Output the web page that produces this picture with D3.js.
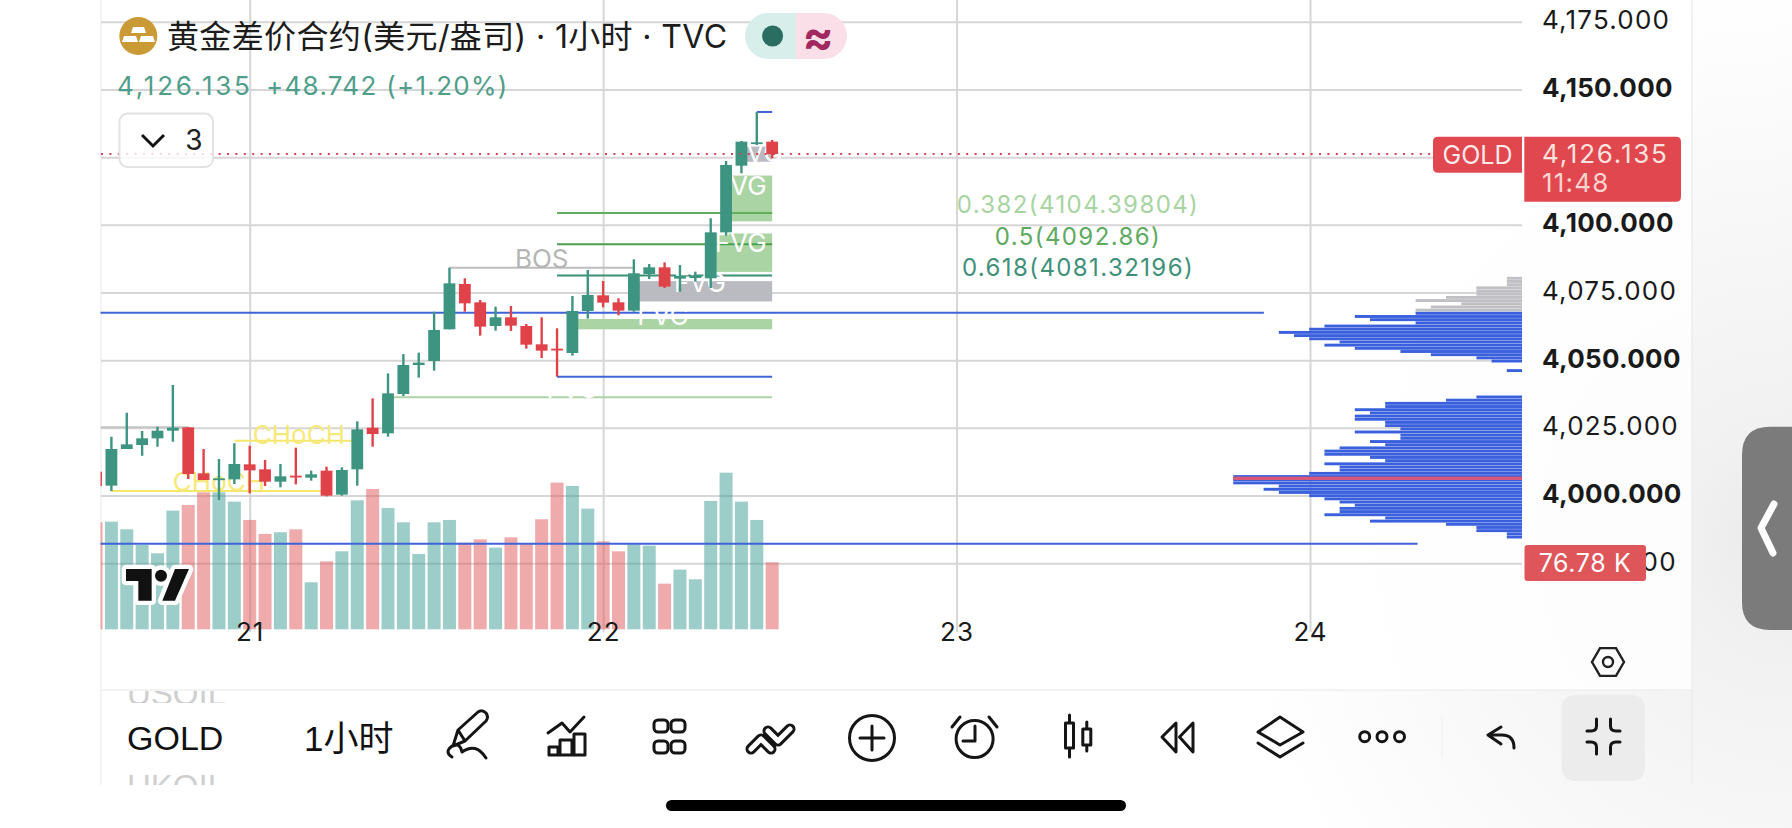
<!DOCTYPE html>
<html lang="zh">
<head>
<meta charset="utf-8">
<title>黄金差价合约 1小时</title>
<script src="https://cdn.jsdelivr.net/npm/d3@7"></script>
<style>
html,body{margin:0;padding:0;background:#fff;overflow:hidden}
svg{display:block}
text{font-family:"Inter","Noto Sans CJK SC",sans-serif}
.cjk{font-family:"Liberation Sans","Noto Sans CJK SC",sans-serif}
</style>
</head>
<body>
<svg id="chart" width="1792" height="828"></svg>
<script>
// Hourly candles, first bar index is -10; bar 0 sits on the "21" day boundary.
const firstBar = -10;
const opens = [4008.8,4003.63,4017.18,4018.66,4021.12,4023.95,4025.18,4008.19,4005.72,4005.97,
  4011.51,4009.67,4005.11,4007.33,4006.59,4009.17,4000.31,4009.67,4025.06,4022.97,
  4037.5,4048.22,4049.7,4061.4,4078.14,4071.37,4062.63,4065.83,4062.63,4055.85,
  4054.25,4052.65,4068.17,4073.96,4071.37,4068.29,4081.84,4084.3,4080.11,4080.36,
  4080.25,4097.23,4121.86,4130.12,4130.73];
const highs = [4010,4021.73,4030.6,4023.83,4025.43,4040.82,4025.18,4017.18,4013.48,4019.27,
  4018.41,4013.11,4011.64,4017.67,4009.17,4010.65,4010.4,4027.4,4035.9,4045.1,
  4052.28,4052.78,4067.92,4084.18,4080.24,4072.23,4069.77,4070.02,4063.37,4065.83,
  4061.77,4073.71,4083.32,4079.25,4072.85,4087.26,4085.53,4086.15,4085.16,4082.7,
  4102.41,4123.59,4130.98,4141.69,4131.35];
const lows = [4002,4001.66,4017.18,4014.71,4018.04,4019.89,4006.09,4005.72,3998.34,4004.25,
  4000.8,4003.51,4003.02,4004.12,4005.48,3999.69,3999.94,4003.63,4018.04,4021.73,
  4036.77,4043.54,4046.12,4061.4,4067.92,4059.06,4060.9,4060.78,4054.25,4050.8,
  4043.91,4051.67,4065.34,4069.52,4066.57,4067.92,4080,4076.67,4075.31,4079.01,
  4076.66,4096,4119.03,4129.5,4124.57];
const closes = [4003.5,4017.18,4018.9,4021.12,4023.95,4025.06,4007.94,4005.72,4006.34,4011.64,
  4009.3,4005.11,4007.08,4006.71,4007.82,3999.94,4009.42,4024.44,4022.72,4037.74,
  4048.22,4049.08,4061.15,4078.39,4071,4062.38,4065.83,4062.75,4055.73,4053.51,
  4053.64,4068.17,4074.08,4071.25,4068.29,4082.09,4084.3,4077.16,4081.1,4081.35,
  4097.23,4122.11,4130.73,4130.49,4126.135];
// Volume in thousands, same bars as above.
const volumes = [122.6,123.4,114.6,96.6,87.1,136,142.5,157,157,146.3,
  125.3,109.3,111.2,114.6,53.9,77.9,89.4,147.8,160.8,139,
  122.6,86.3,122.6,125.3,99.3,103.1,93.6,105.4,98.6,126.1,
  168.1,164.3,138.3,100.8,89.4,97.4,95.9,52.3,68.4,57.3,
  147.1,179.5,146.3,125.3,76.78];

const priceTicks = [4175,4150,4125,4100,4075,4050,4025,4000,3975];
const coveredTick = 4125;
const dayTicks = [["21",0],["22",23],["23",46],["24",69]];
const lastPrice = 4126.135, lastVolume = 76.78;

// Visible-range volume profile: row counts from the top row downward.
const profileStep = 1.176;
const upperProfileTop = 4080.25;
const upperProfile = [1,1,1,3,3,3,5,7,4,6,7,7,11,10,7,13,14,16,15,14,12,13,11,8,6,3,2,0,0,1];
const upperOutOfValueRows = 11;
const lowerProfileTop = 4036.4;
const lowerProfile = [3,5,9,9,11,10,11,11,9,9,8,11,8,8,10,9,12,13,13,10,9,13,12,12,14,19,19,19,16,17,16,14,13,12,11,12,12,13,9,10,5,3,3,1,1];
const pocPrice = 4006.35;

// Market-structure levels: [price, first bar, last bar, colour]
const levels = [
  [4067.5,-12,66,"#3f63d8"],
  [3982.2,-12,76,"#3f63d8"],
  [4043.9,20,34,"#3f63d8"],
  [4141.7,33,34,"#3f63d8"],
  [4036.3,9,34,"#aed2a4"],
  [4104.39804,20,34,"#62ad5e"],
  [4092.86,20,34,"#4aa04e"],
  [4081.32196,20,34,"#3d8f70"],
  [4084.18,13,25,"#bdbdbd"],
  [4025.18,-12,-4,"#c4c4c4"],
  [4020.25,-1,7,"#f5e76c"],
  [4001.66,-9,5,"#f5e76c"]
];
// Fair value gaps: [top, bottom, first bar, last bar, fill]
const gaps = [
  [4118.2,4101.3,31,34,"#abd4a5"],
  [4096.8,4082.6,30,34,"#abd4a5"],
  [4079.2,4071.7,25,34,"#babac1"],
  [4065.2,4061.4,21,34,"#abd4a5"],
  [4128.9,4123.3,32,34,"#babac1"]
];
// Labels tied to a bar and a price: [text, bar, price, colour]
const structureLabels = [
  ["BOS",19.0,4087.4,"#b5b5b5"],
  ["CHoCH",3.2,4022.4,"#f6e97a"],
  ["CHoCH",-2.0,4005,"#f6e97a"],
  ["FVG",31.95,4114.5,"#ffffff"],
  ["FVG",31.95,4093.5,"#ffffff"],
  ["FVG",29.3,4078.8,"#ffffff"],
  ["FVG",26.9,4066.4,"#ffffff"],
  ["FVG",33,4126.6,"#ffffff"],
  ["FVG",21,4039.6,"#ffffff"]
];
const fibLevels = [
  ["0.382",4104.39804,"#a8d4a2"],
  ["0.5",4092.86,"#5eaa60"],
  ["0.618",4081.32196,"#3f9079"]
];

const svg = d3.select("#chart");
const defs = svg.append("defs");
const shade = defs.append("radialGradient").attr("id","cornerShade")
  .attr("gradientUnits","userSpaceOnUse").attr("cx",1792).attr("cy",540).attr("r",560);
shade.append("stop").attr("offset","0").attr("stop-color","#e9e9e9");
shade.append("stop").attr("offset","0.2").attr("stop-color","#f1f1f1");
shade.append("stop").attr("offset","1").attr("stop-color","#ffffff");
defs.append("clipPath").attr("id","pane").append("rect")
  .attr("x",100.5).attr("y",0).attr("width",1421.5).attr("height",632);

svg.append("rect").attr("width",1792).attr("height",828).attr("fill","url(#cornerShade)");
svg.append("rect").attr("x",101).attr("y",0).attr("width",1591).attr("height",690).attr("fill","#fff").attr("opacity",.82);

const x = d3.scaleLinear().domain([0,69]).range([249.7,1310]);
const y = d3.scaleLinear().domain([4000,4150]).range([495.5,89.5]);
const vol = d3.scaleLinear().domain([0,lastVolume]).range([629.3,562.3]);
const profileX = d3.scaleLinear().domain([0,1]).range([1522,1506.8]);

const paneTop = 0, paneBottom = 632, paneLeft = 101, paneRight = 1522;

// Frame of the pane
svg.append("line").attr("x1",paneLeft).attr("x2",paneLeft).attr("y1",0).attr("y2",785).attr("stroke","#f0f0f0").attr("stroke-width",1.5);
svg.append("line").attr("x1",1692).attr("x2",1692).attr("y1",0).attr("y2",785).attr("stroke","#ededed").attr("stroke-width",1.5);
svg.append("line").attr("x1",paneLeft).attr("x2",1692).attr("y1",690).attr("y2",690).attr("stroke","#efefef").attr("stroke-width",1.5);

// Grid, drawn with the axis generators
const gridY = svg.append("g").attr("transform",`translate(${paneRight},0)`)
  .call(d3.axisLeft(y).tickValues(priceTicks).tickSize(paneRight-paneLeft).tickFormat(""));
const gridX = svg.append("g").attr("transform",`translate(0,${paneBottom})`)
  .call(d3.axisTop(x).tickValues(dayTicks.map(d=>d[1])).tickSize(paneBottom-paneTop).tickFormat(""));
[gridY,gridX].forEach(g=>{
  g.select(".domain").remove();
  g.selectAll("line").attr("stroke","#d6d6d6").attr("stroke-width",2);
});

const pane = svg.append("g").attr("clip-path","url(#pane)");
const bars = d3.range(opens.length).map(i=>({
  bar:firstBar+i,o:opens[i],h:highs[i],l:lows[i],c:closes[i],v:volumes[i],up:closes[i]>=opens[i]
}));

// Volume
const volumeWidth = 13;
pane.append("g").selectAll("rect").data(bars).join("rect")
  .attr("x",d=>x(d.bar)-volumeWidth/2).attr("width",volumeWidth)
  .attr("y",d=>vol(d.v)).attr("height",d=>vol(0)-vol(d.v))
  .attr("fill",d=>d.up?"#3b9c93":"#e0555a").attr("fill-opacity",.5);

// Volume profile
const profileRows = [];
upperProfile.forEach((n,r)=>profileRows.push({price:upperProfileTop-r*profileStep,n,fill:r<upperOutOfValueRows?"#c0c0c4":"#3a60de"}));
lowerProfile.forEach((n,r)=>profileRows.push({price:lowerProfileTop-r*profileStep,n,fill:"#3a60de"}));
const rowHeight = 2.9;
svg.append("g").selectAll("rect").data(profileRows.filter(d=>d.n>0)).join("rect")
  .attr("x",d=>profileX(d.n)).attr("width",d=>profileX(0)-profileX(d.n))
  .attr("y",d=>y(d.price)-rowHeight/2).attr("height",rowHeight).attr("fill",d=>d.fill);
svg.append("rect").attr("x",profileX(19)).attr("width",profileX(0)-profileX(19))
  .attr("y",y(pocPrice)-1.7).attr("height",3.4).attr("fill","#d8587a");

// Fair value gap boxes
pane.append("g").selectAll("rect").data(gaps).join("rect")
  .attr("x",d=>x(d[2])).attr("width",d=>x(d[3])-x(d[2]))
  .attr("y",d=>y(d[0])).attr("height",d=>y(d[1])-y(d[0])).attr("fill",d=>d[4]);

// Structure levels
pane.append("g").selectAll("line").data(levels).join("line")
  .attr("x1",d=>x(d[1])).attr("x2",d=>x(d[2]))
  .attr("y1",d=>y(d[0])).attr("y2",d=>y(d[0]))
  .attr("stroke",d=>d[3]).attr("stroke-width",2);

// Structure labels
pane.append("g").selectAll("text").data(structureLabels).join("text")
  .attr("x",d=>x(d[1])).attr("y",d=>y(d[2]))
  .attr("text-anchor","middle").attr("dominant-baseline","central")
  .attr("font-size",26).attr("fill",d=>d[3]).text(d=>d[0]);

// Candles
const candle = pane.append("g").selectAll("g").data(bars).join("g")
  .attr("fill",d=>d.up?"#3d9480":"#e0424a").attr("stroke",d=>d.up?"#3d9480":"#e0424a");
candle.append("line").attr("x1",d=>x(d.bar)).attr("x2",d=>x(d.bar))
  .attr("y1",d=>y(d.h)).attr("y2",d=>y(d.l)).attr("stroke-width",2.4);
candle.append("rect").attr("stroke","none")
  .attr("x",d=>x(d.bar)-5.9).attr("width",11.8)
  .attr("y",d=>y(Math.max(d.o,d.c))).attr("height",d=>Math.max(1.8,Math.abs(y(d.o)-y(d.c))));

// Last price line
svg.append("line").attr("x1",paneLeft).attr("x2",1433)
  .attr("y1",y(lastPrice)).attr("y2",y(lastPrice))
  .attr("stroke","#d9434e").attr("stroke-width",2).attr("stroke-dasharray","2 6.4");

// TradingView mark over the volume pane
const mark = svg.append("g").attr("transform","translate(100,380) scale(.3333)");
const logoShapes = ()=>{
  const l = mark.append("g");
  l.append("path").attr("d","M78 567H155V662H115V603H78Z");
  l.append("circle").attr("cx",183).attr("cy",587).attr("r",18);
  l.append("path").attr("d","M225 567H267L225 662H187Z");
  return l;
};
logoShapes().attr("fill","#fff").attr("stroke","#fff").attr("stroke-width",26).attr("stroke-linejoin","round");
logoShapes().attr("fill","#111");

// Price axis labels; the tick under the last-price tag is left out
const priceAxis = svg.append("g").attr("transform","translate(1542,0)")
  .call(d3.axisRight(y).tickValues(priceTicks.filter(d=>d!==coveredTick)).tickSize(0).tickPadding(0).tickFormat(d3.format(",.3f")));
priceAxis.select(".domain").remove();
priceAxis.selectAll("text")
  .attr("font-family","Inter").attr("font-size",26).attr("fill","#1a1a1a")
  .attr("dy",null).attr("dominant-baseline","central")
  .attr("transform","translate(0,-2.5)")
  .attr("font-weight",d=>d%50===0?700:400)
  .attr("letter-spacing",d=>d%50===0?.3:1.2);

// Time axis labels
const timeAxis = svg.append("g").attr("transform","translate(0,631)")
  .call(d3.axisBottom(x).tickValues(dayTicks.map(d=>d[1])).tickSize(0).tickPadding(0)
    .tickFormat(v=>dayTicks.find(d=>d[1]===v)[0]));
timeAxis.select(".domain").remove();
timeAxis.selectAll("text").attr("font-family","Inter").attr("font-size",26).attr("fill","#1a1a1a")
  .attr("letter-spacing",1).attr("y",0).attr("dy",null).attr("dominant-baseline","central");

// Fibonacci labels beside the chart
svg.append("g").selectAll("text").data(fibLevels).join("text")
  .attr("x",1078).attr("y",d=>y(d[1])-8)
  .attr("text-anchor","middle").attr("dominant-baseline","central")
  .attr("font-size",24).attr("fill",d=>d[2]).attr("letter-spacing",1.4)
  .text(d=>`${d[0]}(${d[1]})`);

// Price and volume tags on the axis
const tagRed = "#e0474f";
svg.append("path").attr("d","M1438 136.7H1522V172.7H1438Q1433 172.7 1433 167.7V141.7Q1433 136.7 1438 136.7Z").attr("fill",tagRed);
svg.append("text").attr("x",1477.5).attr("y",154.5).attr("text-anchor","middle").attr("dominant-baseline","central")
  .attr("font-size",25).attr("fill","#fdeaea").text("GOLD");
svg.append("path").attr("d","M1524.3 136.7H1676Q1681 136.7 1681 141.7V196.7Q1681 201.7 1676 201.7H1524.3Z").attr("fill",tagRed);
svg.append("text").attr("x",1542).attr("y",153).attr("dominant-baseline","central")
  .attr("font-size",26).attr("letter-spacing",1.8).attr("fill","#fde3df").text(d3.format(",.3f")(lastPrice));
svg.append("text").attr("x",1542).attr("y",182).attr("dominant-baseline","central")
  .attr("font-size",26).attr("letter-spacing",1.2).attr("fill","#fbd5cf").text("11:48");
svg.append("rect").attr("x",1524.5).attr("y",545).attr("width",121.5).attr("height",36).attr("rx",3).attr("fill","#df565a");
svg.append("text").attr("x",1585).attr("y",563).attr("text-anchor","middle").attr("dominant-baseline","central")
  .attr("font-size",25).attr("letter-spacing",.6).attr("fill","#fff").text(`${lastVolume} K`);

// Header: symbol badge, title, last quote
const badge = svg.append("g");
badge.append("circle").attr("cx",138.3).attr("cy",36).attr("r",19).attr("fill","#c99a35");
badge.append("g").attr("fill","#fff").selectAll("path")
  .data(["M133 27H144L146 33H131Z","M124 36H136L138 42H122Z","M141 36H153L155 42H139Z"]).join("path").attr("d",d=>d);
svg.append("text").attr("x",167).attr("y",36).attr("dominant-baseline","central")
  .attr("font-family","Noto Sans CJK SC").attr("font-size",32).attr("fill","#1c1c1c")
  .attr("textLength",560).attr("lengthAdjust","spacing")
  .text("黄金差价合约(美元/盎司) · 1小时 · TVC");
svg.append("text").attr("x",117).attr("y",85.5).attr("dominant-baseline","central")
  .attr("font-size",26).attr("fill","#4f9e8a").attr("letter-spacing",2.8).text("4,126.135");
svg.append("text").attr("x",266).attr("y",85.5).attr("dominant-baseline","central")
  .attr("font-size",26).attr("fill","#4f9e8a").attr("letter-spacing",1.3).text("+48.742 (+1.20%)");

// Session and market-status pill
svg.append("path").attr("d","M796 13H768A23 23 0 0 0 768 59H796Z").attr("fill","#d8eeeb");
svg.append("path").attr("d","M796 13H824A23 23 0 0 1 824 59H796Z").attr("fill","#fadfe8");
svg.append("circle").attr("cx",772.6).attr("cy",36).attr("r",10.5).attr("fill","#2a6e62");
svg.append("text").attr("x",818).attr("y",36).attr("text-anchor","middle").attr("dominant-baseline","central")
  .attr("font-size",46).attr("font-weight",700).attr("fill","#a3275f").text("≈");

// Collapsed indicator list
svg.append("rect").attr("x",119.5).attr("y",113.5).attr("width",93.5).attr("height",53.5).attr("rx",8)
  .attr("fill","#fff").attr("fill-opacity",.8).attr("stroke","#e2e2e2").attr("stroke-width",2);
svg.append("path").attr("d","M142 135L153 146L164 135").attr("fill","none").attr("stroke","#151515").attr("stroke-width",3);
svg.append("text").attr("x",194).attr("y",140).attr("text-anchor","middle").attr("dominant-baseline","central")
  .attr("font-size",28).attr("fill","#222").text("3");

// Bottom toolbar
const tb = svg.append("g").attr("fill","none").attr("stroke","#151515").attr("stroke-width",3)
  .attr("stroke-linecap","round").attr("stroke-linejoin","round");
svg.append("text").attr("x",127).attr("y",738).attr("dominant-baseline","central").attr("class","cjk")
  .attr("font-size",34).attr("fill","#111").text("GOLD");
svg.append("text").attr("x",304).attr("y",738).attr("dominant-baseline","central").attr("class","cjk")
  .attr("font-size",35).attr("fill","#111").text("1小时");
const clipUs = defs.append("clipPath").attr("id","listAbove");
clipUs.append("rect").attr("x",101).attr("y",691).attr("width",300).attr("height",12);
const clipUk = defs.append("clipPath").attr("id","listBelow");
clipUk.append("rect").attr("x",101).attr("y",770).attr("width",300).attr("height",15);
svg.append("text").attr("x",127).attr("y",693).attr("dominant-baseline","central").attr("class","cjk")
  .attr("font-size",33).attr("fill","#cfcfcf").attr("clip-path","url(#listAbove)").text("USOIL");
svg.append("text").attr("x",127).attr("y",786).attr("dominant-baseline","central").attr("class","cjk")
  .attr("font-size",33).attr("fill","#cfcfcf").attr("clip-path","url(#listBelow)").text("UKOIL");

tb.append("path").attr("d","M453 746L458 730L478 712Q482 709 486 713Q489 717 486 721L465 741Z M458 730L465 741");
tb.append("path").attr("d","M452 757Q444 752 452 746Q460 742 462 752Q476 742 486 758");
tb.append("path").attr("d","M548 733L562 723L570 732L584 717");
tb.append("path").attr("d","M549 755H585M549 755V747H558V755M560 755V740H572V755M574 755V734H585V755");
[[654,720],[671,720],[654,741],[671,741]].forEach(p=>tb.append("rect").attr("x",p[0]).attr("y",p[1]).attr("width",14).attr("height",12).attr("rx",4));
tb.append("path").attr("d","M751 749L761 739L771 749M768 731L778 741L790 729").attr("stroke-width",11);
tb.append("path").attr("d","M751 749L761 739L771 749M768 731L778 741L790 729").attr("stroke","#fff").attr("stroke-width",5);
tb.append("circle").attr("cx",872).attr("cy",738).attr("r",22.5);
tb.append("path").attr("d","M860 738H884M872 726V750");
tb.append("circle").attr("cx",974.6).attr("cy",739).attr("r",18.5);
tb.append("path").attr("d","M975 726V741H963M960 717L952 727M989 717L997 727");
tb.append("path").attr("d","M1069.5 715V723M1069.5 748V757M1065.5 723H1073.5V748H1065.5ZM1086.8 722V729M1086.8 745V751M1082.8 729H1090.8V745H1082.8Z");
tb.append("path").attr("d","M1176 723L1162 737L1176 752ZM1193 723L1179.5 737L1193 752Z");
tb.append("path").attr("d","M1280 717L1303 732L1280 745L1258 732ZM1258 743L1280 757L1303 743");
[1364.7,1382,1399.5].forEach(cx=>tb.append("circle").attr("cx",cx).attr("cy",736.7).attr("r",5));
svg.append("line").attr("x1",1442).attr("x2",1442).attr("y1",717).attr("y2",757).attr("stroke","#f2f2f2").attr("stroke-width",1.5);
tb.append("path").attr("d","M1501 727L1488 735L1501 744M1488 735H1502Q1514 735 1514 748");
svg.append("rect").attr("x",1561.5).attr("y",695).attr("width",83.5).attr("height",86).attr("rx",13).attr("fill","#ececec");
const tb2 = svg.append("g").attr("fill","none").attr("stroke","#151515").attr("stroke-width",3).attr("stroke-linecap","round");
tb2.append("path").attr("d","M1596.5 719V726Q1596.5 731 1591 731H1587M1610.5 719V726Q1610.5 731 1616 731H1620M1587 742H1591Q1596.5 742 1596.5 747V754M1620 742H1616Q1610.5 742 1610.5 747V754");
const hex = d3.range(6).map(i=>[1608+16*Math.cos(i*Math.PI/3),662+16*Math.sin(i*Math.PI/3)]);
svg.append("path").attr("d",d3.line()(hex)+"Z").attr("fill","none").attr("stroke","#222").attr("stroke-width",2.4);
svg.append("circle").attr("cx",1608).attr("cy",662).attr("r",5).attr("fill","none").attr("stroke","#222").attr("stroke-width",2.4);

// Home indicator and side drawer handle
svg.append("rect").attr("x",666).attr("y",800).attr("width",460).attr("height",11).attr("rx",5.5).attr("fill","#000");
svg.append("path").attr("d","M1792 426.7H1770Q1742 426.7 1742 455V602Q1742 630 1770 630H1792Z").attr("fill","#7b7b7b");
svg.append("path").attr("d","M1774 504L1761 528L1773 553").attr("fill","none").attr("stroke","#fff").attr("stroke-width",7).attr("stroke-linecap","round").attr("stroke-linejoin","round");
</script>
</body>
</html>
